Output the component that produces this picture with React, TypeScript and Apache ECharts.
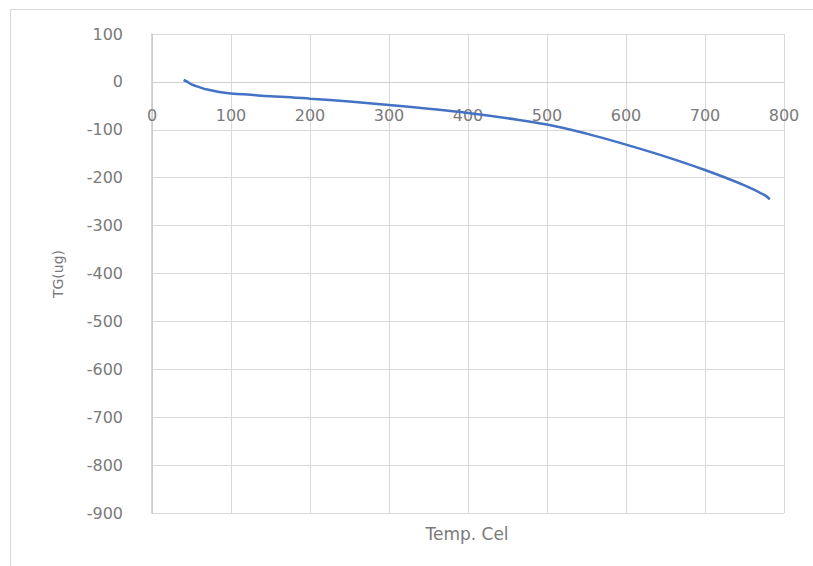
import React, { useEffect, useRef } from "react";
import * as echarts from "echarts";

const temps = [40, 45, 50, 60, 70, 85, 100, 125, 150, 175, 200, 250, 300, 350, 400, 450, 500, 550, 600, 650, 700, 750, 775, 782];
const tgValues = [4, 0, -5, -11, -16, -21, -24, -27, -30, -32, -35, -41, -48, -56, -65, -76, -89, -108, -131, -156, -184, -216, -236, -245];

const xTitle = "Temp. Cel";
const yTitle = "TG(ug)";

const Y_MIN = -900;
const Y_MAX = 100;

export default function App() {
  const ref = useRef<HTMLDivElement>(null);
  useEffect(() => {
    if (!ref.current) return;
    const chart = echarts.init(ref.current, null, { renderer: "svg" });
    const font = "'DejaVu Sans', 'Noto Sans', sans-serif";
    const top = 34;
    const bottom = 53;
    const gridH = 566 - top - bottom;
    const zeroOffset = -(gridH * (0 - Y_MIN)) / (Y_MAX - Y_MIN);
    chart.setOption({
      animation: false,
      backgroundColor: "#ffffff",
      grid: { left: 152, right: 29, top, bottom, containLabel: false },
      xAxis: {
        type: "value",
        min: 0,
        max: 800,
        interval: 100,
        offset: zeroOffset,
        axisLine: { show: true, onZero: false, lineStyle: { color: "#d0d0d0", width: 1 } },
        axisTick: { show: false },
        axisLabel: { color: "#7a7a7a", fontSize: 16, fontFamily: font, margin: 26 },
        splitLine: { show: true, lineStyle: { color: "#d9d9d9", width: 1 } },
      },
      yAxis: {
        type: "value",
        min: Y_MIN,
        max: Y_MAX,
        interval: 100,
        axisLine: { show: true, onZero: false, lineStyle: { color: "#c8c8c8", width: 1.5 } },
        axisTick: { show: false },
        axisLabel: { color: "#7a7a7a", fontSize: 16, fontFamily: font, margin: 29 },
        splitLine: { show: true, lineStyle: { color: "#d9d9d9", width: 1 } },
      },
      series: [
        {
          type: "line",
          data: temps.map((t, i) => [t, tgValues[i]]),
          smooth: 0.4,
          showSymbol: false,
          symbol: "none",
          lineStyle: { color: "#4472C4", width: 2.5 },
        },
      ],
      graphic: [
        {
          type: "rect",
          shape: { x: 10.5, y: 9.5, width: 900, height: 700 },
          style: { fill: "none", stroke: "#d9d9d9", lineWidth: 1 },
          silent: true,
        },
        {
          type: "text",
          x: 467,
          y: 534,
          style: { text: xTitle, fill: "#7a7a7a", fontSize: 17, fontFamily: font, align: "center", verticalAlign: "middle" },
        },
        {
          type: "text",
          x: 58,
          y: 274,
          rotation: Math.PI / 2,
          style: { text: yTitle, fill: "#7a7a7a", fontSize: 14, fontFamily: font, align: "center", verticalAlign: "middle" },
        },
      ],
    });
    return () => chart.dispose();
  }, []);
  return <div ref={ref} style={{ position: "fixed", left: 0, top: 0, width: 813, height: 566 }} />;
}
